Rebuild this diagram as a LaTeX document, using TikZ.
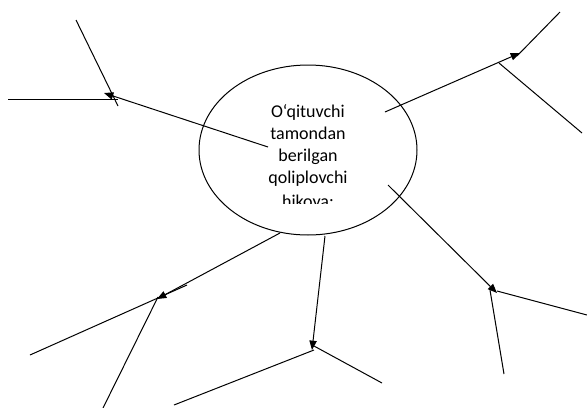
\documentclass[tikz,border=0pt]{standalone}
\usepackage{fontspec}
\setmainfont{Carlito}
\usetikzlibrary{shapes.geometric,arrows.meta}

\begin{document}
\begin{tikzpicture}[x=0.75pt,y=0.75pt,yscale=-1,xscale=1,line width=0.75pt,
    arr/.style={-{Triangle[length=7pt,width=5.5pt]}}]
        \useasboundingbox (0,0) rectangle (587,408);
        %Shape: Ellipse [id:story]
        \node [draw,ellipse,minimum width=163.5pt,minimum height=127.5pt,inner sep=0pt] (story) at (308,150) {};
        % Text Node
        \begin{scope}
            \clip (215,85) rectangle (400,203);
            \node [align=center,inner sep=0pt,font=\fontsize{13.5}{16.5}\selectfont] (storytext) at (308,157) {O‘qituvchi\\tamondan\\berilgan\\qoliplovchi\\[1.5pt]hikoya:};
        \end{scope}
        % ends of the lines
        \coordinate (ulS) at (268,147);  \coordinate (ulT) at (104,93);
        \coordinate (ulA) at (8,99);     \coordinate (ulB) at (118,99);
        \coordinate (ulC) at (76,20);    \coordinate (ulD) at (118,106);
        \coordinate (urS) at (385,112);  \coordinate (urT) at (520,53);
        \coordinate (urA) at (560,12);   \coordinate (urB) at (517,56);
        \coordinate (urC) at (499,63);   \coordinate (urD) at (582,133);
        \coordinate (llS) at (280,233);  \coordinate (llT) at (157,299);
        \coordinate (llA) at (30,355);   \coordinate (llB) at (187,285);
        \coordinate (llC) at (103,408);  \coordinate (llD) at (158,297);
        \coordinate (lmS) at (325,236);  \coordinate (lmT) at (312,350);
        \coordinate (lmA) at (174,405);  \coordinate (lmB) at (314,350);
        \coordinate (lmC) at (314,346);  \coordinate (lmD) at (382,383);
        \coordinate (lrS) at (388,185);  \coordinate (lrT) at (497,293);
        \coordinate (lrA) at (497,291);  \coordinate (lrB) at (587,315);
        \coordinate (lrC) at (490,290);  \coordinate (lrD) at (504,374);
        %Straight Lines [upper left]
        \draw [arr] (ulS) -- (ulT) ;
        \draw    (ulA) -- (ulB) ;
        \draw    (ulC) -- (ulD) ;
        %Straight Lines [upper right]
        \draw [arr] (urS) -- (urT) ;
        \draw    (urA) -- (urB) ;
        \draw    (urC) -- (urD) ;
        %Straight Lines [lower left]
        \draw [arr] (llS) -- (llT) ;
        \draw    (llA) -- (llB) ;
        \draw    (llC) -- (llD) ;
        %Straight Lines [lower middle]
        \draw [arr] (lmS) -- (lmT) ;
        \draw    (lmA) -- (lmB) ;
        \draw    (lmC) -- (lmD) ;
        %Straight Lines [lower right]
        \draw [arr] (lrS) -- (lrT) ;
        \draw    (lrA) -- (lrB) ;
        \draw    (lrC) -- (lrD) ;
\end{tikzpicture}
\end{document}
